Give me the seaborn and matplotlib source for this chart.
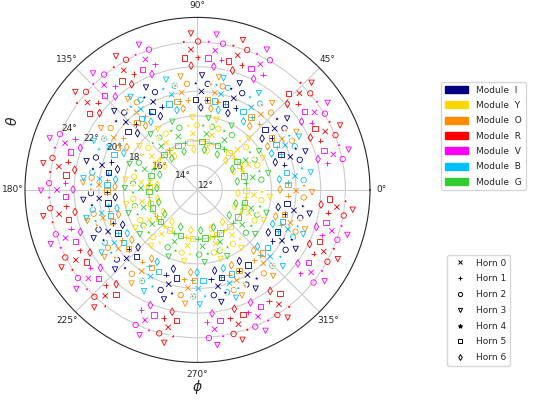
import numpy as np
import pandas as pd
import seaborn as sns
import matplotlib
matplotlib.use("Agg")
import matplotlib.pyplot as plt
from matplotlib.patches import Patch
from matplotlib.lines import Line2D

# modules and horns
modules = ["I", "Y", "O", "R", "V", "B", "G"]
module_colors = ["navy", "gold", "darkorange", "red", "magenta", "deepskyblue", "limegreen"]
horns = [0, 1, 2, 3, 4, 5, 6]
horn_markers = ["x", "+", "o", "v", "*", "s", "d"]

# focal plane offsets (deg): radial (theta) and tangential
module_dtheta = [0.0, -3.4, 0.0, 3.4, 3.4, 0.0, -3.4]
module_dtan = [0.0, 1.97, 3.93, 1.97, -1.97, -3.93, -1.97]
horn_dtheta = [0.0, -0.65, 0.65, 1.3, 0.65, -0.65, -1.3]
horn_dtan = [0.0, -1.13, -1.13, 0.0, 1.13, 1.13, 0.0]

# boresight
theta0 = 20.0
scan_phi = [19.6, 38.5, 68.4, 87.7, 116.7, 136.6, 165.5, 185.0,
            205.0, 224.0, 253.0, 282.0, 300.5, 329.0, 348.0]

rows = []
for phi0 in scan_phi:
    for m, dth_m, dt_m in zip(modules, module_dtheta, module_dtan):
        for h, dth_h, dt_h in zip(horns, horn_dtheta, horn_dtan):
            th = theta0 + dth_m + dth_h
            ph = phi0 + (dt_m + dt_h) / np.sin(np.radians(th))
            rows.append({"module": m, "horn": h, "theta": th, "phi": np.radians(ph)})
df = pd.DataFrame(rows)

sns.set_style("white")
fig = plt.figure(figsize=(5.36, 4.0), dpi=100)
ax = fig.add_axes([0.0466, 0.094, 0.6437, 0.8625], projection="polar")

palette = dict(zip(modules, module_colors))
for h, mk in zip(horns, horn_markers):
    sub = df[df["horn"] == h]
    hollow = mk in ["o", "v", "s", "d"]
    sns.scatterplot(data=sub, x="phi", y="theta", hue="module", palette=palette,
                    marker=mk, s=15 if mk != "*" else 20, linewidth=0.6,
                    legend=False, ax=ax, zorder=3)
    coll = ax.collections[-1]
    if hollow:
        fc = coll.get_facecolors()
        coll.set_edgecolors(fc)
        coll.set_facecolors("none")

ax.set_ylim(12, 26)
ax.set_yticks([12, 14, 16, 18, 20, 22, 24])
ax.set_yticklabels([f"{t}°" for t in [12, 14, 16, 18, 20, 22, 24]], fontsize=6.5)
ax.set_rlabel_position(157.5)
ax.set_xticks(np.radians(np.arange(0, 360, 45)))
ax.set_xticklabels([f"{a}°" for a in range(0, 360, 45)], fontsize=6.5)
ax.tick_params(axis="x", pad=1.5, length=0)
ax.grid(True, color="#cccccc", lw=0.8)
ax.spines["polar"].set_linewidth(0.8)
ax.set_xlabel(r"$\phi$", fontsize=10)
ax.set_ylabel(r"$\theta$", fontsize=10)
ax.xaxis.set_label_coords(0.5, -0.045)
ax.yaxis.set_label_coords(-0.015, 0.70)

mod_handles = [Patch(color=c, label=f"Module  {m}") for m, c in zip(modules, module_colors)]
fig.legend(handles=mod_handles, loc="upper left", bbox_to_anchor=(0.823, 0.795),
           fontsize=6.5, handlelength=2.6, handleheight=0.8, handletextpad=0.9,
           labelspacing=0.7, frameon=True, borderpad=0.4, borderaxespad=0)

horn_handles = [Line2D([], [], ls="none", marker=mk, color="black", markersize=3,
                       markerfacecolor="black" if mk in ["*", "x", "+"] else "none",
                       markeredgewidth=0.7, label=f"Horn {h}")
                for h, mk in zip(horns, horn_markers)]
fig.legend(handles=horn_handles, loc="upper left", bbox_to_anchor=(0.834, 0.3625),
           fontsize=6.5, handlelength=2.0, labelspacing=0.75, frameon=True,
           borderpad=0.4, borderaxespad=0)

fig.savefig("out.png", dpi=100)
